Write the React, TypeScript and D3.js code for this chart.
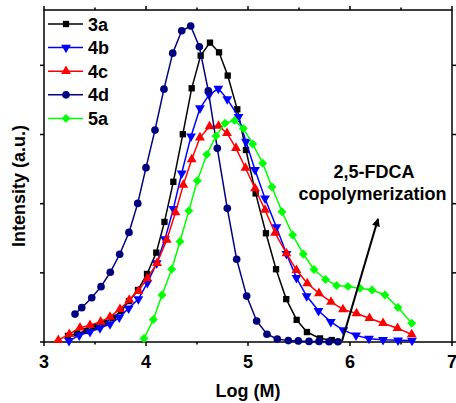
import { useEffect, useRef } from 'react';
import * as d3 from 'd3';

// GPC traces (log M vs normalised intensity)
const logM3a = [3.235, 3.324, 3.412, 3.5, 3.588, 3.676, 3.755, 3.833, 3.922, 4.01, 4.101, 4.181, 4.268, 4.361, 4.448, 4.536, 4.627, 4.716, 4.801, 4.895, 4.98, 5.075, 5.176, 5.275, 5.375, 5.477, 5.578, 5.706, 5.821];
const int3a = [0.022, 0.031, 0.04, 0.054, 0.069, 0.087, 0.112, 0.148, 0.188, 0.246, 0.323, 0.434, 0.579, 0.751, 0.917, 1.035, 1.082, 1.047, 0.963, 0.841, 0.694, 0.537, 0.393, 0.263, 0.155, 0.08, 0.036, 0.013, 0.007];

const logM4b = [3.245, 3.346, 3.451, 3.549, 3.647, 3.738, 3.83, 3.925, 4.013, 4.105, 4.186, 4.268, 4.35, 4.441, 4.529, 4.618, 4.709, 4.797, 4.907, 4.98, 5.069, 5.167, 5.279, 5.377, 5.475, 5.575, 5.691, 5.812, 5.934, 6.059, 6.186, 6.324, 6.471, 6.608];
const int4b = [0.004, 0.024, 0.037, 0.05, 0.065, 0.089, 0.122, 0.155, 0.214, 0.285, 0.372, 0.481, 0.61, 0.743, 0.845, 0.893, 0.916, 0.878, 0.814, 0.724, 0.622, 0.519, 0.415, 0.319, 0.232, 0.166, 0.113, 0.073, 0.043, 0.024, 0.012, 0.008, 0.006, 0.005];

const logM4c = [3.14, 3.248, 3.353, 3.451, 3.556, 3.647, 3.745, 3.836, 3.925, 4.013, 4.108, 4.203, 4.289, 4.366, 4.448, 4.529, 4.623, 4.711, 4.794, 4.882, 4.975, 5.069, 5.167, 5.265, 5.377, 5.475, 5.581, 5.696, 5.814, 5.931, 6.064, 6.191, 6.324, 6.466, 6.605];
const int4c = [0.007, 0.028, 0.052, 0.061, 0.073, 0.091, 0.119, 0.152, 0.184, 0.23, 0.285, 0.369, 0.468, 0.568, 0.66, 0.739, 0.779, 0.781, 0.755, 0.701, 0.629, 0.555, 0.477, 0.394, 0.32, 0.26, 0.212, 0.176, 0.145, 0.118, 0.103, 0.086, 0.068, 0.05, 0.027];

const logM4d = [3.304, 3.37, 3.468, 3.559, 3.65, 3.742, 3.833, 3.919, 4.0, 4.088, 4.176, 4.262, 4.35, 4.438, 4.523, 4.611, 4.699, 4.797, 4.889, 4.987, 5.085, 5.186, 5.287, 5.395, 5.493, 5.598, 5.696, 5.794, 5.882];
const int4d = [0.101, 0.124, 0.16, 0.2, 0.252, 0.317, 0.396, 0.501, 0.63, 0.766, 0.914, 1.044, 1.125, 1.142, 1.067, 0.908, 0.7, 0.483, 0.299, 0.166, 0.076, 0.028, 0.011, 0.005, 0.004, 0.002, 0.002, 0.001, 0.001];

const logM5a = [3.98, 4.072, 4.157, 4.252, 4.333, 4.42, 4.503, 4.596, 4.686, 4.775, 4.868, 4.954, 5.046, 5.144, 5.235, 5.333, 5.438, 5.542, 5.647, 5.76, 5.868, 5.98, 6.098, 6.216, 6.343, 6.471, 6.605];
const int5a = [0.013, 0.081, 0.17, 0.263, 0.363, 0.474, 0.583, 0.678, 0.745, 0.791, 0.801, 0.772, 0.716, 0.646, 0.56, 0.471, 0.387, 0.318, 0.262, 0.226, 0.204, 0.201, 0.194, 0.188, 0.17, 0.125, 0.068];

const seriesNames = ['3a', '4b', '4c', '4d', '5a'];
const seriesColors = ['#000000', '#0000ff', '#ff0000', '#000080', '#00ff00'];
const xTicks = [3, 4, 5, 6, 7];
const yTicks = [0, 0.25, 0.5, 0.75, 1.0];

// arrow drawn in data units: start near baseline, pointing up-right
const arrowFrom = [5.922, 0.004];
const arrowTo = [6.275, 0.445];

const FONT = '"Liberation Sans", Arial, sans-serif';

const App = () => {
  const ref = useRef<SVGSVGElement>(null);

  useEffect(() => {
    const width = 456;
    const height = 403;
    const margin = { top: 10, right: 4, bottom: 61, left: 44 };

    const svg = d3.select(ref.current);
    svg.selectAll('*').remove();

    const x = d3.scaleLinear().domain([3, 7]).range([margin.left, width - margin.right]);
    const y = d3.scaleLinear().domain([0, 1.2]).range([height - margin.bottom, margin.top]);

    const data = [
      { name: seriesNames[0], xs: logM3a, ys: int3a },
      { name: seriesNames[1], xs: logM4b, ys: int4b },
      { name: seriesNames[2], xs: logM4c, ys: int4c },
      { name: seriesNames[3], xs: logM4d, ys: int4d },
      { name: seriesNames[4], xs: logM5a, ys: int5a },
    ];

    const symbols = [
      { type: d3.symbolSquare, size: 40, rotate: 0 },
      { type: d3.symbolTriangle, size: 42, rotate: 180 },
      { type: d3.symbolTriangle, size: 42, rotate: 0 },
      { type: d3.symbolCircle, size: 46, rotate: 0 },
      { type: d3.symbolSquare, size: 40, rotate: 45 },
    ];

    // axes box
    const x0 = x(3), x1 = x(7), y0 = y(0), y1 = y(1.2);
    const axisG = svg.append('g').attr('stroke', '#000').attr('stroke-width', 1.5);
    axisG.append('rect')
      .attr('x', x0).attr('y', y1)
      .attr('width', x1 - x0).attr('height', y0 - y1)
      .attr('fill', 'none');

    // x ticks (major + minor), outward on bottom and top
    d3.range(3, 7.01, 0.5).forEach((v) => {
      const len = Number.isInteger(v) ? 4 : 2.5;
      axisG.append('line').attr('x1', x(v)).attr('x2', x(v)).attr('y1', y0).attr('y2', y0 + len);
      axisG.append('line').attr('x1', x(v)).attr('x2', x(v)).attr('y1', y1).attr('y2', y1 - len);
    });
    // y ticks outward on left and right
    yTicks.forEach((v) => {
      axisG.append('line').attr('x1', x0).attr('x2', x0 - 4).attr('y1', y(v)).attr('y2', y(v));
      axisG.append('line').attr('x1', x1).attr('x2', x1 + 4).attr('y1', y(v)).attr('y2', y(v));
    });

    svg.append('g')
      .selectAll('text')
      .data(xTicks)
      .join('text')
      .attr('x', (d) => x(d))
      .attr('y', y0 + 26)
      .attr('text-anchor', 'middle')
      .style('font-family', FONT)
      .style('font-weight', 'bold')
      .style('font-size', '18px')
      .text((d) => d);

    svg.append('text')
      .attr('x', (x0 + x1) / 2)
      .attr('y', 397)
      .attr('text-anchor', 'middle')
      .style('font-family', FONT)
      .style('font-weight', 'bold')
      .style('font-size', '18px')
      .text('Log (M)');

    svg.append('text')
      .attr('transform', `translate(25,${(y0 + y1) / 2 + 10}) rotate(-90)`)
      .attr('text-anchor', 'middle')
      .style('font-family', FONT)
      .style('font-weight', 'bold')
      .style('font-size', '18px')
      .text('Intensity (a.u.)');

    // series
    const line = d3.line<[number, number]>().x((d) => x(d[0])).y((d) => y(d[1]));
    data.forEach((s, i) => {
      const pts: [number, number][] = s.xs.map((v, k) => [v, s.ys[k]]);
      const g = svg.append('g');
      g.append('path')
        .attr('d', line(pts))
        .attr('fill', 'none')
        .attr('stroke', seriesColors[i])
        .attr('stroke-width', 1.5);
      const sym = d3.symbol().type(symbols[i].type).size(symbols[i].size);
      g.selectAll('path.m')
        .data(pts)
        .join('path')
        .attr('class', 'm')
        .attr('d', sym())
        .attr('transform', (d) => `translate(${x(d[0])},${y(d[1])}) rotate(${symbols[i].rotate})`)
        .attr('fill', seriesColors[i]);
    });

    // legend
    const leg = svg.append('g');
    data.forEach((s, i) => {
      const cy = 24 + i * 23.6;
      leg.append('line')
        .attr('x1', 48).attr('x2', 83).attr('y1', cy).attr('y2', cy)
        .attr('stroke', seriesColors[i]).attr('stroke-width', 1.5);
      const sym = d3.symbol().type(symbols[i].type).size(symbols[i].size);
      leg.append('path')
        .attr('d', sym())
        .attr('transform', `translate(66,${cy}) rotate(${symbols[i].rotate})`)
        .attr('fill', seriesColors[i]);
      leg.append('text')
        .attr('x', 88)
        .attr('y', cy + 6.5)
        .style('font-family', FONT)
        .style('font-weight', 'bold')
        .style('font-size', '18px')
        .text(s.name);
    });

    // annotation + arrow
    svg.append('defs').append('marker')
      .attr('id', 'arrowhead')
      .attr('viewBox', '0 0 10 10')
      .attr('refX', 9).attr('refY', 5)
      .attr('markerWidth', 6).attr('markerHeight', 4)
      .attr('markerUnits', 'strokeWidth')
      .attr('orient', 'auto')
      .append('path')
      .attr('d', 'M0,0 L10,5 L0,10 z')
      .attr('fill', '#000');

    svg.append('line')
      .attr('x1', x(arrowFrom[0])).attr('y1', y(arrowFrom[1]))
      .attr('x2', x(arrowTo[0])).attr('y2', y(arrowTo[1]))
      .attr('stroke', '#000').attr('stroke-width', 2)
      .attr('marker-end', 'url(#arrowhead)');

    const ann = svg.append('text')
      .attr('text-anchor', 'middle')
      .style('font-family', FONT)
      .style('font-weight', 'bold')
      .style('font-size', '18px');
    ann.append('tspan').attr('x', 374).attr('y', 178).text('2,5-FDCA');
    ann.append('tspan').attr('x', 372.5).attr('y', 200).text('copolymerization');
  }, []);

  return (
    <svg
      ref={ref}
      width={456}
      height={403}
      style={{ position: 'absolute', left: 0, top: 0, background: '#fff' }}
    />
  );
};

export default App;
